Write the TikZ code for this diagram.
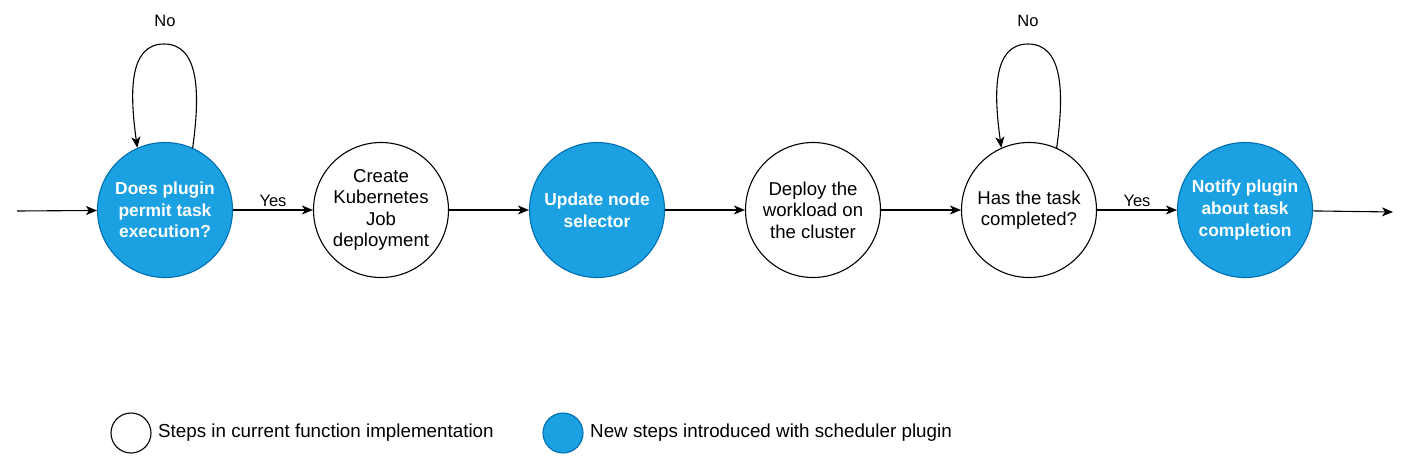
\documentclass[tikz,border=0pt]{standalone}
\usepackage{fontspec}
\setmainfont{Liberation Sans}
\usetikzlibrary{arrows.meta}
\definecolor{dblue}{HTML}{1BA1E2}
\definecolor{dstroke}{HTML}{006EAF}
\tikzset{
  stepw/.style={circle,draw=black,fill=white,line width=1.1pt,minimum size=135pt,inner sep=0pt,align=center,font=\fontsize{18.6}{21.6}\selectfont},
  stepb/.style={circle,draw=dstroke,fill=dblue,line width=1.1pt,minimum size=135pt,inner sep=0pt,align=center,text=white,font=\fontsize{17.4}{21.6}\selectfont\bfseries},
  arr/.style={line width=1.1pt,-{Stealth[length=11pt,width=9pt,inset=3pt]}},
  lbl/.style={font=\fontsize{16.5}{19}\selectfont,inner sep=1pt},
  legw/.style={circle,draw=black,fill=white,line width=1.1pt,minimum size=40pt,inner sep=0pt},
  legb/.style={circle,draw=dstroke,fill=dblue,line width=1.1pt,minimum size=40pt,inner sep=0pt},
  legt/.style={anchor=west,font=\fontsize{18.8}{22}\selectfont,inner sep=0pt}
}
\begin{document}
\begin{tikzpicture}[x=1pt,y=-1pt]
\useasboundingbox (0,0) rectangle (1413,461);
\node[stepb] (n1) at (165,210) {Does plugin\\permit task\\execution?};
\node[stepw] (n2) at (381,210) {Create\\Kubernetes\\Job\\deployment};
\node[stepb] (n3) at (597,210) {Update node\\selector};
\node[stepw] (n4) at (813,210) {Deploy the\\workload on\\the cluster};
\node[stepw] (n5) at (1029,210) {Has the task\\completed?};
\node[stepb] (n6) at (1245,210) {Notify plugin\\about task\\completion};
\coordinate (s) at (17,211);
\coordinate (e) at (1393,212);
\draw[arr] (s) -- (n1);
\draw[arr] (n1) -- node[lbl,above=2pt] (y1) {Yes} (n2);
\draw[arr] (n2) -- (n3);
\draw[arr] (n3) -- (n4);
\draw[arr] (n4) -- (n5);
\draw[arr] (n5) -- node[lbl,above=2pt] (y2) {Yes} (n6);
\draw[arr] (n6) -- (e);
\draw[arr] (n1.66) .. controls (200,95) and (200,44) .. (164,44) .. controls (128,44) and (130,95) .. (n1.114);
\draw[arr] (n5.66) .. controls (1064,95) and (1064,44) .. (1028,44) .. controls (992,44) and (994,95) .. (n5.114);
\node[lbl] (no1) at (165,21) {No};
\node[lbl] (no2) at (1028,21) {No};
\node[legw] (l1) at (131,433) {};
\node[legt] (l1t) at (158,433) {Steps in current function implementation};
\node[legb] (l2) at (563,433) {};
\node[legt] (l2t) at (590,433) {New steps introduced with scheduler plugin};
\end{tikzpicture}
\end{document}
